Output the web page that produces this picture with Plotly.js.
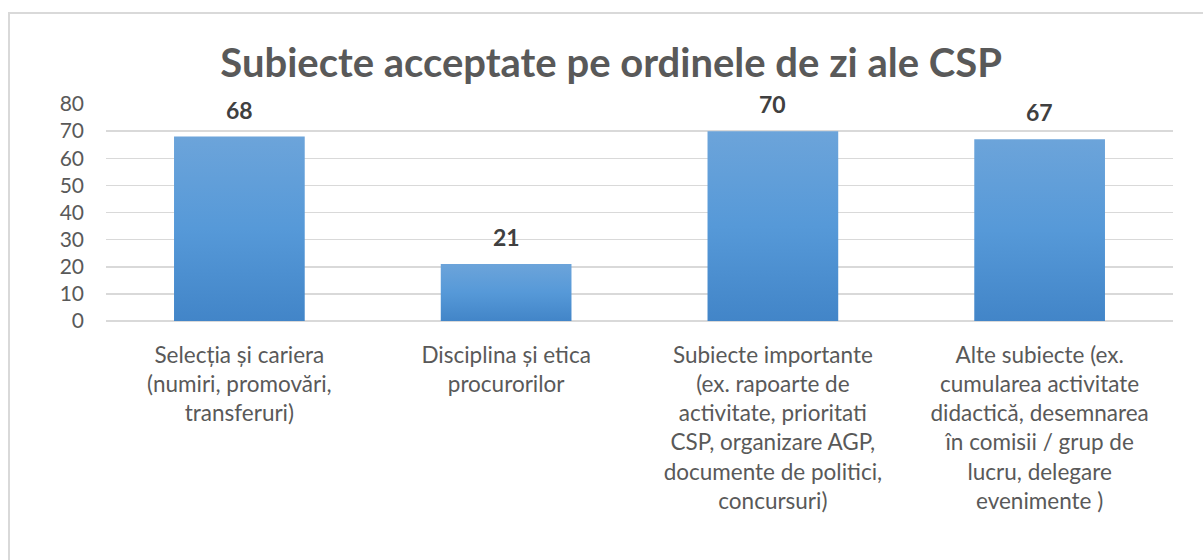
<!DOCTYPE html>
<html>
<head>
<meta charset="utf-8">
<script src="https://cdn.plot.ly/plotly-3.0.1.min.js"></script>
<style>
html,body{margin:0;padding:0;background:#fff;}
#wrap{position:relative;width:1203px;height:560px;}
#chart{width:1203px;height:560px;}
#frame{position:absolute;left:8px;top:12px;width:1200px;height:560px;border-left:2px solid #d9d9d9;border-top:2px solid #d9d9d9;pointer-events:none;box-sizing:border-box;}
</style>
</head>
<body>
<div id="wrap"><div id="chart"></div><div id="frame"></div></div>
<script>
const categories = [
  "Selecția și cariera<br>(numiri, promovări,<br>transferuri)",
  "Disciplina și etica<br>procurorilor",
  "Subiecte importante<br>(ex. rapoarte de<br>activitate, prioritati<br>CSP, organizare AGP,<br>documente de politici,<br>concursuri)",
  "Alte subiecte (ex.<br>cumularea activitate<br>didactică, desemnarea<br>în comisii / grup de<br>lucru, delegare<br>evenimente )"
];
const values = [68, 21, 70, 67];
const yTicks = [0, 10, 20, 30, 40, 50, 60, 70, 80];
const titleText = "Subiecte acceptate pe ordinele de zi ale CSP";

const FONT = "Lato, 'Open Sans', sans-serif";

const trace = {
  type: "bar",
  x: categories,
  y: values,
  marker: {color: "#5596d4", line: {width: 0}},
  hoverinfo: "none"
};

const annotations = categories.map((c, i) => ({
  x: c, y: values[i], xref: "x", yref: "y",
  text: "<b>" + values[i] + "</b>",
  showarrow: false, yanchor: "bottom", yshift: 11,
  font: {family: FONT, size: 23, color: "#404040"}
}));

const layout = {
  width: 1203, height: 560,
  margin: {l: 106, r: 30, t: 104, b: 239},
  paper_bgcolor: "#fff", plot_bgcolor: "#fff",
  title: {text: "<b>" + titleText + "</b>", x: 0.508, xanchor: "center", y: 0.887, yanchor: "middle",
          font: {family: FONT, size: 40, color: "#595959"}},
  bargap: 0.51,
  showlegend: false,
  xaxis: {
    showgrid: false, zeroline: false, showline: false,
    ticks: "", ticklabelstandoff: 18,
    tickfont: {family: FONT, size: 22.5, color: "#595959"},
    fixedrange: true
  },
  yaxis: {
    range: [0, 80], tickvals: yTicks, ticktext: yTicks.map(String),
    showgrid: true, gridcolor: "#d9d9d9", gridwidth: 1.5,
    zeroline: true, zerolinecolor: "#d9d9d9", zerolinewidth: 2,
    showline: false, ticks: "", ticklabelstandoff: 21,
    tickfont: {family: FONT, size: 21, color: "#595959"},
    fixedrange: true
  },
  annotations: annotations
};

Plotly.newPlot("chart", [trace], layout, {displayModeBar: false, staticPlot: true}).then(gd => {
  const svg = gd.querySelector("svg.main-svg");
  const ns = "http://www.w3.org/2000/svg";
  let defs = svg.querySelector("defs");
  if (!defs) { defs = document.createElementNS(ns, "defs"); svg.insertBefore(defs, svg.firstChild); }
  const g = document.createElementNS(ns, "linearGradient");
  g.setAttribute("id", "barGrad");
  g.setAttribute("x1", "0"); g.setAttribute("y1", "0");
  g.setAttribute("x2", "0"); g.setAttribute("y2", "1");
  [["0", "#6ca4da"], ["0.5", "#5699d8"], ["1", "#4285c8"]].forEach(([o, c]) => {
    const s = document.createElementNS(ns, "stop");
    s.setAttribute("offset", o); s.setAttribute("stop-color", c);
    g.appendChild(s);
  });
  defs.appendChild(g);
  gd.querySelectorAll(".bars .point path").forEach(p => {
    p.style.fill = "url(#barGrad)";
  });
});
</script>
</body>
</html>
